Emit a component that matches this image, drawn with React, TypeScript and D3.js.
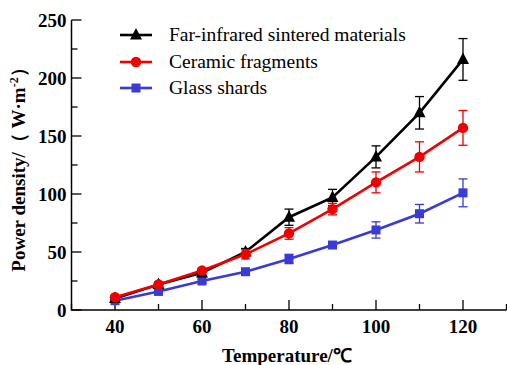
import { scaleLinear, line, range } from "d3";

const temps = [40, 50, 60, 70, 80, 90, 100, 110, 120];
const farInfrared = [10, 22, 32, 50, 80, 97, 132, 170, 216];
const farInfraredErr = [1.5, 2, 2, 3, 7, 7, 9.5, 14, 18];
const ceramic = [11, 22, 34, 48, 66, 87, 110, 132, 157];
const ceramicErr = [1.5, 2, 2, 4, 5, 5, 9, 13, 15];
const glass = [8, 16, 25, 33, 44, 56, 69, 83, 101];
const glassErr = [1, 1.5, 1.5, 2, 4, 2, 7, 8, 12];

const seriesNames = ["Far-infrared sintered materials", "Ceramic fragments", "Glass shards"];
const yTicks = [0, 50, 100, 150, 200, 250];
const xTicks = [40, 60, 80, 100, 120];

const W = 507, H = 365;
const font = "'Liberation Serif', 'Times New Roman', serif";

function Marker({ kind, x, y, color }: { kind: string; x: number; y: number; color: string }) {
  if (kind === "triangle")
    return <path d={`M${x},${y - 7}L${x + 6},${y + 4.5}L${x - 6},${y + 4.5}Z`} fill={color} />;
  if (kind === "circle") return <circle cx={x} cy={y} r={5.2} fill={color} />;
  return <rect x={x - 4.5} y={y - 4.5} width={9} height={9} fill={color} />;
}

export default function App() {
  const x = scaleLinear().domain([30, 130]).range([71.5, 506.5]);
  const y = scaleLinear().domain([0, 250]).range([310, 20]);

  const series = [
    { name: seriesNames[2], values: glass, err: glassErr, color: "#3a3ad6", marker: "square" },
    { name: seriesNames[0], values: farInfrared, err: farInfraredErr, color: "#000000", marker: "triangle" },
    { name: seriesNames[1], values: ceramic, err: ceramicErr, color: "#f00000", marker: "circle" },
  ];
  const legendOrder = [series[1], series[2], series[0]];
  const legendY = [35, 62, 88];

  const path = line<number>()
    .x((_, i) => x(temps[i]))
    .y((d) => y(d));

  const minorX = range(30, 131, 10).filter((t) => !xTicks.includes(t));
  const minorY = range(25, 250, 50);

  return (
    <svg width={W} height={H} style={{ position: "absolute", left: 0, top: 0, background: "#fff" }} fontFamily={font}>
      {/* axes */}
      <line x1={x(30)} x2={x(30)} y1={y(250)} y2={y(0) + 0.75} stroke="#000" strokeWidth={1.5} />
      <line x1={x(30)} x2={x(130)} y1={y(0)} y2={y(0)} stroke="#000" strokeWidth={1.5} />
      {yTicks.map((t) => (
        <g key={"y" + t}>
          <line x1={x(30)} x2={x(30) + 10} y1={y(t)} y2={y(t)} stroke="#000" strokeWidth={1.3} />
          <text x={x(30) - 5} y={y(t)} dy="0.35em" textAnchor="end" fontSize={19} fontWeight="bold">
            {t}
          </text>
        </g>
      ))}
      {minorY.map((t) => (
        <line key={"my" + t} x1={x(30)} x2={x(30) + 6} y1={y(t)} y2={y(t)} stroke="#000" strokeWidth={1.3} />
      ))}
      {xTicks.map((t) => (
        <g key={"x" + t}>
          <line x1={x(t)} x2={x(t)} y1={y(0)} y2={y(0) - 10} stroke="#000" strokeWidth={1.3} />
          <text x={x(t)} y={333} textAnchor="middle" fontSize={19} fontWeight="bold">
            {t}
          </text>
        </g>
      ))}
      {minorX.map((t) => (
        <line key={"mx" + t} x1={x(t)} x2={x(t)} y1={y(0)} y2={y(0) - 6} stroke="#000" strokeWidth={1.3} />
      ))}

      {/* axis titles */}
      <text x={287} y={362} textAnchor="middle" fontSize={19} fontWeight="bold">
        Temperature/℃
      </text>
      <text transform="translate(25,165) rotate(-90)" textAnchor="middle" fontSize={19} fontWeight="bold">
        Power density/（ W·m<tspan dy={-7} fontSize={12}>-2</tspan>
        <tspan dy={7}>）</tspan>
      </text>

      {/* series */}
      {series.map((s) => (
        <g key={s.name}>
          {s.values.map((v, i) => {
            const cx = x(temps[i]);
            const top = y(v + s.err[i]);
            const bot = y(v - s.err[i]);
            return (
              <g key={i} stroke={s.color} strokeWidth={1.3}>
                <line x1={cx} x2={cx} y1={top} y2={bot} />
                <line x1={cx - 4.5} x2={cx + 4.5} y1={top} y2={top} />
                <line x1={cx - 4.5} x2={cx + 4.5} y1={bot} y2={bot} />
              </g>
            );
          })}
          <path d={path(s.values) ?? ""} fill="none" stroke={s.color} strokeWidth={2.6} />
          {s.values.map((v, i) => (
            <Marker key={i} kind={s.marker} x={x(temps[i])} y={y(v)} color={s.color} />
          ))}
        </g>
      ))}

      {/* legend */}
      {legendOrder.map((s, i) => (
        <g key={"lg" + s.name}>
          <line x1={120} x2={152} y1={legendY[i]} y2={legendY[i]} stroke={s.color} strokeWidth={2.6} />
          <Marker kind={s.marker} x={136} y={legendY[i]} color={s.color} />
          <text x={169} y={legendY[i]} dy="0.33em" fontSize={19.5}>
            {s.name}
          </text>
        </g>
      ))}
    </svg>
  );
}
